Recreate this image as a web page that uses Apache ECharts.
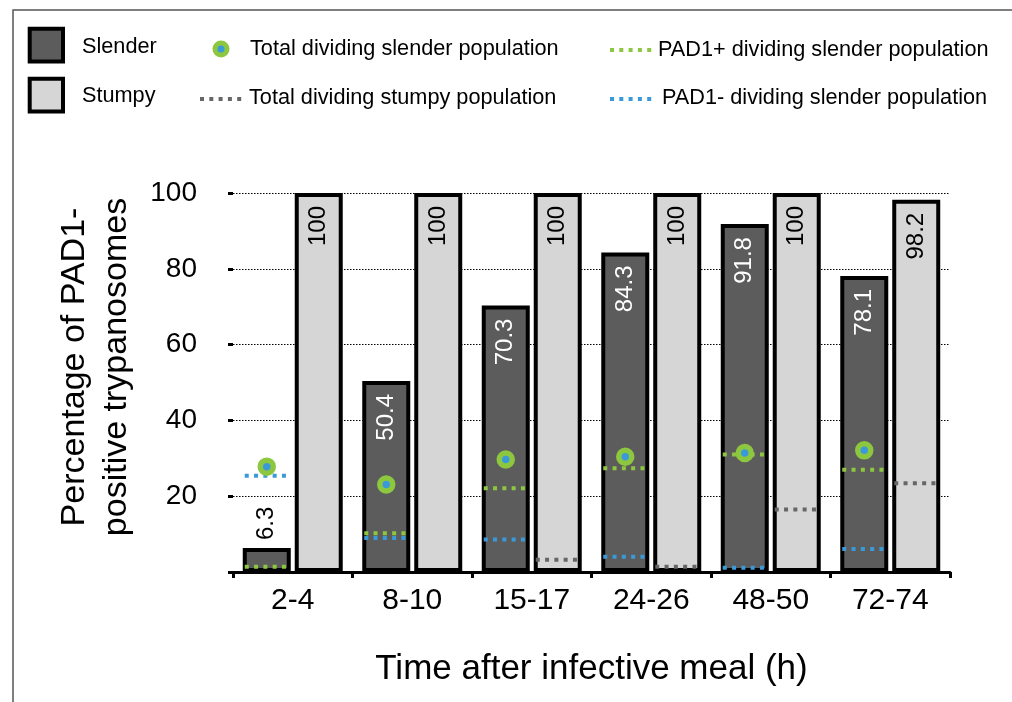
<!DOCTYPE html>
<html>
<head>
<meta charset="utf-8">
<script src="https://cdn.jsdelivr.net/npm/echarts@6/dist/echarts.min.js"></script>
<style>html,body{margin:0;padding:0;background:#fff;}#chart{width:1012px;height:702px;}</style>
</head>
<body>
<div id="chart"></div>
<script>
const categories = ['2-4', '8-10', '15-17', '24-26', '48-50', '72-74'];
const slender = [6.3, 50.4, 70.3, 84.3, 91.8, 78.1];
const stumpy = [100, 100, 100, 100, 100, 98.2];
const totalDividingSlender = [27.8, 23.1, 29.7, 30.4, 31.4, 32.1];
const pad1PlusDividingSlender = [1.4, 10.2, 22.1, 27.4, 31.0, 27.0];
const pad1MinusDividingSlender = [25.4, 9.0, 8.6, 4.0, 1.1, 6.1];
const totalDividingStumpy = [0, 0, 3.2, 1.4, 16.5, 23.4];
const yTickLabels = [20, 40, 60, 80, 100];

const FONT = "'Liberation Sans', Arial, Helvetica, sans-serif";
const GREEN = '#8dc63f';
const BLUE = '#3a9ad9';
const DGREY = '#666666';
const BAR_W = 48;
const GAP = 4;
const OFF = (BAR_W + GAP) / 2;
const LINE_LEN = 44;

const chart = echarts.init(document.getElementById('chart'), null, {renderer: 'canvas'});

function dotted(offset, color) {
  return function (params, api) {
    const v = api.value(1);
    if (!(v > 0)) return null;
    const c = api.coord([api.value(0), v]);
    const x = c[0] + offset;
    return {
      type: 'line',
      shape: {x1: x - LINE_LEN / 2, y1: c[1], x2: x + LINE_LEN / 2, y2: c[1]},
      style: {stroke: color, lineWidth: 4, lineDash: [4, 5.3]}
    };
  };
}

const slenderData = slender.map(function (v) {
  if (v < 20) {
    return {value: v, label: {position: 'top', align: 'left', color: '#000', distance: 8}};
  }
  return v;
});

const legendY1 = 48, legendY2 = 97;
const LFONT = '21.7px ' + FONT;

const option = {
  backgroundColor: '#fff',
  animation: false,
  grid: {left: 233, right: 62, top: 193, bottom: 130},
  xAxis: {
    type: 'category',
    data: categories,
    name: 'Time after infective meal (h)',
    nameLocation: 'middle',
    nameGap: 80,
    nameTextStyle: {fontFamily: FONT, fontSize: 35, color: '#000', verticalAlign: 'top'},
    axisLine: {lineStyle: {color: '#000', width: 3}},
    axisTick: {show: true, length: 6, lineStyle: {color: '#000', width: 3}},
    axisLabel: {fontFamily: FONT, fontSize: 30, color: '#000', margin: 14}
  },
  yAxis: {
    type: 'value',
    min: 0, max: 100, interval: 20,
    axisLine: {show: false},
    axisTick: {show: true, length: 5, lineStyle: {color: '#000', width: 3}},
    axisLabel: {fontFamily: FONT, fontSize: 28, color: '#000', margin: 36,
      formatter: function (v) { return yTickLabels.indexOf(v) >= 0 ? String(v) : ''; }},
    splitLine: {show: true, lineStyle: {color: '#000', width: 1, type: [1.5, 1.5]}}
  },
  graphic: [
    {type: 'polyline', shape: {points: [[13, 702], [13, 10], [1012, 10]]}, style: {stroke: '#555', lineWidth: 1.5, fill: null}, silent: true},
    {type: 'text', x: 96, y: 367, rotation: Math.PI / 2,
      style: {text: 'Percentage of PAD1-\npositive trypanosomes', font: '34px ' + FONT, fill: '#000', align: 'center', verticalAlign: 'middle', lineHeight: 42}},
    {type: 'rect', shape: {x: 29.7, y: 28.7, width: 33.3, height: 32.7}, style: {fill: '#5c5c5c', stroke: '#000', lineWidth: 4}},
    {type: 'text', x: 82, y: legendY1 - 1, style: {text: 'Slender', font: LFONT, fill: '#000', verticalAlign: 'middle'}},
    {type: 'rect', shape: {x: 29.7, y: 78.7, width: 33.3, height: 32.7}, style: {fill: '#d6d6d6', stroke: '#000', lineWidth: 4}},
    {type: 'text', x: 82, y: legendY2 - 1, style: {text: 'Stumpy', font: LFONT, fill: '#000', verticalAlign: 'middle'}},
    {type: 'circle', shape: {cx: 221, cy: legendY1 + 1, r: 6}, style: {fill: BLUE, stroke: GREEN, lineWidth: 5}},
    {type: 'text', x: 250, y: legendY1 + 1, style: {text: 'Total dividing slender population', font: LFONT, fill: '#000', verticalAlign: 'middle'}},
    {type: 'line', shape: {x1: 200, y1: legendY2 + 2, x2: 244, y2: legendY2 + 2}, style: {stroke: DGREY, lineWidth: 4, lineDash: [4, 5.3]}},
    {type: 'text', x: 249, y: legendY2 + 1, style: {text: 'Total dividing stumpy population', font: LFONT, fill: '#000', verticalAlign: 'middle'}},
    {type: 'line', shape: {x1: 610, y1: legendY1 + 2, x2: 654, y2: legendY1 + 2}, style: {stroke: GREEN, lineWidth: 4, lineDash: [4, 5.3]}},
    {type: 'text', x: 658, y: legendY1 + 2, style: {text: 'PAD1+ dividing slender population', font: LFONT, fill: '#000', verticalAlign: 'middle'}},
    {type: 'line', shape: {x1: 610, y1: legendY2 + 2, x2: 654, y2: legendY2 + 2}, style: {stroke: BLUE, lineWidth: 4, lineDash: [4, 5.3]}},
    {type: 'text', x: 662, y: legendY2 + 1, style: {text: 'PAD1- dividing slender population', font: LFONT, fill: '#000', verticalAlign: 'middle'}}
  ],
  series: [
    {
      name: 'Slender', type: 'bar', data: slenderData,
      barWidth: BAR_W, barGap: (GAP / BAR_W * 100).toFixed(1) + '%',
      itemStyle: {color: '#5c5c5c', borderColor: '#000', borderWidth: 4},
      label: {show: true, position: 'insideTop', distance: 13, rotate: 90, align: 'right', verticalAlign: 'middle',
        color: '#fff', fontFamily: FONT, fontSize: 24},
      z: 2
    },
    {
      name: 'Stumpy', type: 'bar', data: stumpy,
      barWidth: BAR_W,
      itemStyle: {color: '#d6d6d6', borderColor: '#000', borderWidth: 4},
      label: {show: true, position: 'insideTop', distance: 13, rotate: 90, align: 'right', verticalAlign: 'middle',
        color: '#000', fontFamily: FONT, fontSize: 24},
      z: 2
    },
    {
      name: 'PAD1+ dividing slender population', type: 'custom',
      data: pad1PlusDividingSlender.map(function (v, i) { return [i, v]; }),
      renderItem: dotted(-OFF, GREEN), z: 5
    },
    {
      name: 'PAD1- dividing slender population', type: 'custom',
      data: pad1MinusDividingSlender.map(function (v, i) { return [i, v]; }),
      renderItem: dotted(-OFF, BLUE), z: 5
    },
    {
      name: 'Total dividing stumpy population', type: 'custom',
      data: totalDividingStumpy.map(function (v, i) { return [i, v]; }),
      renderItem: dotted(OFF, DGREY), z: 5
    },
    {
      name: 'Total dividing slender population', type: 'scatter',
      data: totalDividingSlender,
      symbol: 'circle', symbolSize: 13, symbolOffset: [-OFF, 0],
      itemStyle: {color: BLUE, borderColor: GREEN, borderWidth: 5.5, opacity: 1},
      z: 6
    }
  ]
};
chart.setOption(option);
</script>
</body>
</html>
